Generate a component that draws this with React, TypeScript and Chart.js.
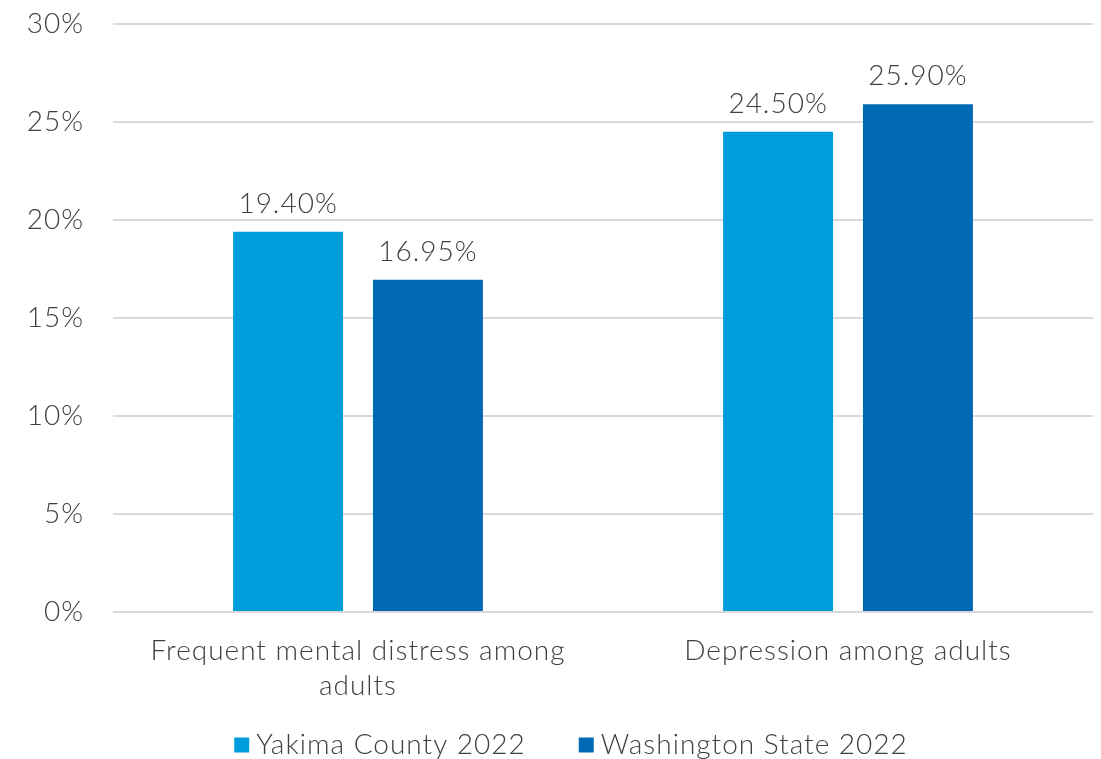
import React, { useEffect, useRef } from "react";
import { Chart, registerables } from "chart.js";

Chart.register(...registerables);

const categories: string[][] = [["Frequent mental distress among", "adults"], ["Depression among adults"]];
const seriesNames = ["Yakima County 2022", "Washington State 2022"];
const yakima = [19.4, 24.5];
const washington = [16.95, 25.9];
const colors = ["#009ddc", "#0069b4"];
const yTicks = [0, 5, 10, 15, 20, 25, 30];

const FONT = "Lato";
const TEXT = "#404040";
const SIZE = 28;

const spacingPlugin = {
  id: "spacing",
  beforeUpdate(chart: any) { chart.ctx.letterSpacing = "1px"; },
  beforeLayout(chart: any) { chart.ctx.letterSpacing = "1px"; },
  beforeDraw(chart: any) { chart.ctx.letterSpacing = "1px"; },
};

const dataLabelPlugin = {
  id: "dataLabels",
  afterDatasetsDraw(chart: any) {
    const ctx = chart.ctx;
    ctx.save();
    ctx.font = `300 ${SIZE}px ${FONT}`;
    ctx.textAlign = "center";
    ctx.textBaseline = "alphabetic";
    chart.data.datasets.forEach((ds: any, di: number) => {
      const meta = chart.getDatasetMeta(di);
      meta.data.forEach((bar: any, i: number) => {
        const v = ds.data[i];
        const label = v.toFixed(2) + "%";
        const w = ctx.measureText(label).width;
        const by = bar.y - 19;
        ctx.fillStyle = "#ffffff";
        ctx.fillRect(bar.x - w / 2 - 10, by - 28, w + 20, 34);
        ctx.fillStyle = TEXT;
        ctx.fillText(label, bar.x, by);
      });
    });
    ctx.restore();
  },
};

const legendPlugin = {
  id: "customLegend",
  afterDraw(chart: any) {
    const ctx = chart.ctx;
    ctx.save();
    ctx.font = `300 ${SIZE}px ${FONT}`;
    ctx.textBaseline = "middle";
    ctx.textAlign = "left";
    const box = 15;
    const gap = 7;
    const itemGap = 53;
    const widths = seriesNames.map((n) => box + gap + ctx.measureText(n).width);
    const total = widths.reduce((a, b) => a + b, 0) + itemGap * (seriesNames.length - 1);
    let x = 571 - total / 2;
    const cy = 745;
    seriesNames.forEach((n, i) => {
      ctx.fillStyle = colors[i];
      ctx.fillRect(x, cy - box / 2, box, box);
      ctx.fillStyle = TEXT;
      ctx.fillText(n, x + box + gap, cy);
      x += widths[i] + itemGap;
    });
    ctx.restore();
  },
};

export default function App() {
  const ref = useRef<HTMLCanvasElement>(null);
  useEffect(() => {
    document.body.style.margin = "0";
    const chart = new Chart(ref.current!, {
      type: "bar",
      data: {
        labels: categories,
        datasets: [
          { label: seriesNames[0], data: yakima, backgroundColor: colors[0], categoryPercentage: 0.571, barPercentage: 0.786 },
          { label: seriesNames[1], data: washington, backgroundColor: colors[1], categoryPercentage: 0.571, barPercentage: 0.786 },
        ],
      },
      options: {
        animation: false,
        responsive: false,
        maintainAspectRatio: false,
        layout: { padding: { top: 24, right: 8, left: 0, bottom: 47 } },
        plugins: { legend: { display: false }, tooltip: { enabled: false } },
        scales: {
          x: {
            grid: { display: false, drawTicks: false },
            border: { display: false },
            ticks: { color: TEXT, font: { family: FONT, size: SIZE, weight: 300, lineHeight: 1.25 }, padding: 21, maxRotation: 0, autoSkip: false },
            afterFit: (s: any) => { s.height = 100; s.paddingLeft = 0; s.paddingRight = 0; },
          },
          y: {
            min: 0,
            max: 30,
            afterBuildTicks: (s: any) => { s.ticks = yTicks.map((v) => ({ value: v })); },
            grid: { color: "#d9d9d9", lineWidth: 2, drawTicks: false },
            border: { display: false },
            ticks: { color: TEXT, font: { family: FONT, size: SIZE, weight: 300 }, padding: 29, callback: (v: any) => v + "%" },
            afterFit: (s: any) => { s.width = 113; s.paddingTop = 0; s.paddingBottom = 0; },
          },
        },
      },
      plugins: [spacingPlugin, dataLabelPlugin, legendPlugin],
    });
    return () => chart.destroy();
  }, []);
  return (
    <div style={{ width: 1101, height: 759, position: "relative" }}>
      <canvas ref={ref} width={1101} height={759} style={{ display: "block" }} />
    </div>
  );
}
